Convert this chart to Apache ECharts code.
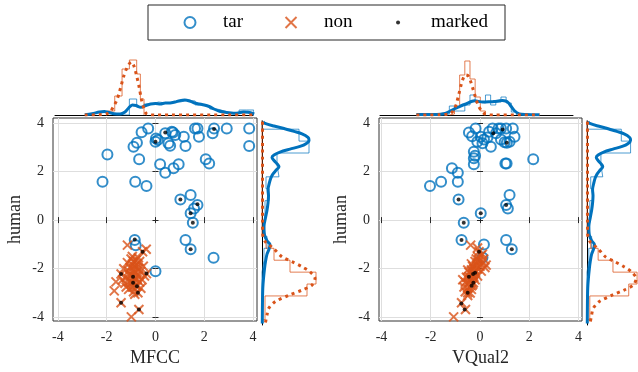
<!DOCTYPE html>
<html>
<head>
<meta charset="utf-8">
<script src="https://cdn.jsdelivr.net/npm/echarts@6/dist/echarts.min.js"></script>
<style>
  html, body { margin: 0; padding: 0; background: #fff; }
  #main { width: 638px; height: 372px; }
</style>
</head>
<body>
<div id="main"></div>
<script>
var blue = '#0072BD', orange = '#D95319';
var serif = "'Liberation Serif', 'Times New Roman', serif";
var tickVals = [-4, -2, 0, 2, 4];

// scatter points, [score, human]
var tarMFCC = [
  [-2.17,1.58],[-1.97,2.7],[-0.83,1.58],[-0.37,1.4],[-0.67,2.5],[-0.9,3.02],[-0.76,3.18],[-0.57,3.61],[-0.3,3.77],
  [0.02,3.36],[0,3.22],[0.1,3.3],[0.4,3.57],[0.53,3.16],[0.67,3.63],[0.81,3.5],[0.6,3.06],[0.72,3.6],
  [1.16,3.43],[1.23,3.05],[1.72,3.77],[1.62,3.77],[1.78,3.43],[2.4,3.77],[2.34,3.57],[2.92,3.77],[3.84,3.77],[3.84,3.05],
  [0.19,2.3],[0.4,1.95],[0.74,2.13],[0.95,2.3],[2.06,2.5],[2.2,2.33],
  [1.02,0.85],[1.44,1.03],[1.72,0.62],[1.58,0.48],[1.44,0.28],[1.53,-0.11],[1.23,-0.82],[1.44,-1.2],[2.38,-1.55],
  [-0.85,-0.82],[-0.81,-1.03],[0,-2.1]
];
var nonMFCC = [
  [-1.15,-1.03],[-0.38,-1.2],[-0.53,-1.3],[-1.41,-2.22],[-0.37,-2.2],[-1.62,-2.54],[-1.69,-2.91],[-1.41,-3.4],
  [-0.68,-3.68],[-0.99,-3.98],[-0.92,-2.33],[-0.92,-2.58],[-0.76,-2.72],[-0.72,-2.99],
  [-1.0,-1.6],[-0.9,-1.7],[-0.8,-1.65],[-0.95,-1.85],[-0.85,-1.9],[-0.75,-1.8],[-1.05,-1.95],[-0.7,-2.0],
  [-0.9,-2.05],[-1.1,-2.1],[-0.8,-2.15],[-0.6,-2.1],[-1.0,-2.25],[-0.7,-2.3],[-1.2,-2.35],[-0.85,-2.4],
  [-0.55,-2.45],[-1.05,-2.5],[-1.25,-2.6],[-0.8,-2.65],[-0.95,-2.75],[-1.1,-2.85],[-0.65,-2.55],[-0.9,-2.95],
  [-1.3,-2.0],[-0.5,-1.9],[-0.45,-2.3],[-1.15,-1.75],[-0.65,-1.7],[-0.95,-1.5],[-0.75,-2.45],[-1.0,-2.6],
  [-1.2,-2.75],[-0.6,-2.8],[-0.85,-3.05],[-1.35,-2.45],[-0.7,-1.55],[-1.05,-2.3],[-0.9,-2.2],[-0.8,-2.0]
];
var markedMFCC = [
  [0,3.22],[0.4,3.6],[2.4,3.75],[1.02,0.85],[1.72,0.65],[1.44,0.28],[1.53,-0.11],[1.44,-1.2],[-0.85,-0.8],
  [-0.53,-1.3],[-1.41,-2.22],[-0.37,-2.2],[-0.92,-2.33],[-0.92,-2.58],[-0.76,-2.72],[-0.72,-2.99],[-1.41,-3.4],[-0.68,-3.68]
];
var tarVQ2 = [
  [-0.45,3.6],[-0.18,3.77],[0.03,3.43],[-0.11,3.22],[0.1,3.16],[0.16,3.32],[0.37,3.63],[0.51,3.77],[0.65,3.57],
  [0.75,3.77],[0.85,3.77],[1.06,3.77],[0.44,3.02],[0.85,3.32],[1.0,3.2],[1.09,3.18],[1.33,3.77],[1.4,3.43],
  [1.2,3.22],[-0.32,3.45],[0.3,3.4],
  [-0.25,2.81],[-0.25,2.54],[-0.25,2.3],[-0.2,2.65],[1.03,2.33],[1.08,2.33],[2.16,2.5],
  [-1.14,2.13],[-0.9,1.95],[-1.58,1.58],[-2.03,1.4],[-0.9,1.58],
  [-0.87,0.85],[1.2,1.03],[1.06,0.62],[1.13,0.48],[0.03,0.28],
  [-0.66,-0.11],[-0.75,-0.82],[0.16,-1.0],[1.06,-0.82],[1.29,-1.2],[0.1,-1.54]
];
var nonVQ2 = [
  [-1.07,-3.98],[-0.59,-3.68],[-0.75,-3.4],[-0.38,-1.03],[-0.1,-1.15],[-0.04,-1.3],
  [0.05,-1.45],[-0.1,-1.5],[0.15,-1.6],[-0.05,-1.65],[-0.2,-1.7],[0.1,-1.75],[-0.15,-1.85],[0.0,-1.9],
  [-0.3,-1.9],[0.2,-1.95],[-0.1,-2.0],[-0.35,-2.05],[-0.2,-2.1],[0.05,-2.1],[-0.45,-2.15],[-0.3,-2.25],
  [-0.1,-2.3],[-0.55,-2.35],[-0.4,-2.45],[-0.2,-2.45],[-0.6,-2.55],[-0.45,-2.6],[-0.3,-2.65],[-0.65,-2.75],
  [-0.5,-2.8],[-0.35,-2.85],[-0.6,-2.95],[-0.4,-3.0],[-0.5,-3.1],[-0.25,-2.0],[-0.15,-1.6],[0.1,-1.4],
  [-0.35,-1.8],[-0.5,-2.05],[0.25,-1.85],[-0.7,-2.45],[-0.25,-2.35],[-0.08,-1.75],
  [-0.45,-2.33],[-0.28,-2.22],[-0.2,-2.17],[-0.34,-2.7],[-0.27,-2.58],[-0.5,-2.99]
];
var markedVQ2 = [
  [0.54,3.57],[0.92,3.73],[1.09,3.18],[-0.87,0.85],[1.06,0.62],[0.03,0.28],[-0.66,-0.11],[-0.75,-0.82],[1.29,-1.2],
  [-0.04,-1.3],[-0.45,-2.33],[-0.28,-2.22],[-0.2,-2.17],[-0.34,-2.7],[-0.27,-2.58],[-0.5,-2.99],[-0.76,-3.43],[-0.62,-3.68]
];

// top marginals: histogram edges / heights and density curves [score, density]
var mfccTarEdges = [-2.27,-1.97,-1.67,-1.37,-1.07,-0.77,-0.47,-0.17,0.13,0.43,0.73,1.03,1.33,1.63,1.93,2.23,2.53,2.83,3.13,3.43,3.73,4.03];
var mfccTarCounts = [3,1,0,0,16,8,11,13,12,13,13,15,14,10,9,6,4,2,2,5,5];
var mfccNonEdges = [-1.97,-1.67,-1.37,-1.07,-0.77,-0.62,-0.47];
var mfccNonCounts = [4,19,46,55,41,16];
var mfccTarKde = [[-2.9,0.3],[-2.6,1.2],[-2.3,3],[-2.1,3.4],[-1.9,2.5],[-1.7,1.3],[-1.45,1],[-1.25,3],[-1.1,7],[-0.95,10],
  [-0.8,9.5],[-0.6,7.7],[-0.4,9.5],[-0.2,11],[0.0,11.5],[0.2,11],[0.4,12],[0.6,12],[0.8,13],[1.0,14.4],[1.2,15],[1.4,14],
  [1.6,12],[1.8,11],[2.0,10],[2.2,8.5],[2.4,6],[2.6,4],[2.8,3],[3.0,2.2],[3.2,1.8],[3.4,2],[3.6,3],[3.8,2.8],[4.05,1]];
var mfccNonKde = [[-2.9,0],[-2.3,0.3],[-2.0,1.2],[-1.85,3.5],[-1.74,7.7],[-1.6,14],[-1.5,21],[-1.4,30],[-1.3,39],[-1.2,45.5],
  [-1.08,51],[-0.98,53],[-0.89,49.5],[-0.78,40],[-0.67,28],[-0.57,15],[-0.47,6],[-0.38,1.5],[-0.25,0.2],[0,0],[4.05,0]];

var vq2TarEdges = [-1.45,-1.24,-1.03,-0.82,-0.61,-0.40,-0.19,0.02,0.23,0.44,0.65,0.86,1.07,1.28,1.49];
var vq2TarCounts = [1,9,4,4,10,20,13,12,20,10,13,18,12,3];
var vq2NonEdges = [-1.24,-1.03,-0.82,-0.61,-0.40,-0.19,0.02,0.23];
var vq2NonCounts = [1,9,40,54,36,18,4];
var vq2TarKde = [[-2.58,0.4],[-2.0,0.5],[-1.6,0.8],[-1.41,1.5],[-1.2,4],[-1.0,6.5],[-0.85,8],[-0.73,9.5],[-0.52,11.5],
  [-0.35,13.5],[-0.2,14.3],[-0.04,13.5],[0.1,13],[0.23,13],[0.4,13.2],[0.58,13.5],[0.75,14],[0.92,14.5],[1.05,14],
  [1.15,12.5],[1.26,9],[1.4,4.5],[1.6,1.2],[1.88,0.5],[2.43,0.3]];
var vq2NonKde = [[-2.58,0],[-1.6,0.2],[-1.3,0.8],[-1.2,1.5],[-1.07,4.5],[-0.97,10],[-0.86,20],[-0.75,31],[-0.65,38],
  [-0.56,40],[-0.47,39],[-0.38,34],[-0.29,27],[-0.18,18],[-0.07,10],[0.07,4],[0.2,1.2],[0.37,0.2],[0.6,0],[2.43,0]];

// right marginals (human score), [density, human]
var humanEdges = [4.23,3.74,3.25,2.76,2.27,1.78,1.29,0.80,0.31,-0.18,-0.67,-1.16,-1.65,-2.14,-2.63,-3.12,-3.61,-4.10];
var humanTarCounts = [0,37,47,15,17,4,7,3,2,1,5,2,0,0,0,0,0];
var humanNonCounts = [0,0,0,0,0,0,0,0,0,0,4,12,28,54,45,3,3];
var humanTarKde = [[1,4.05],[3,3.98],[12,3.87],[22,3.77],[32,3.65],[40,3.55],[46,3.4],[47,3.29],[44,3.14],[38,3.03],
  [28,2.92],[18,2.8],[12,2.68],[10,2.58],[12,2.45],[15,2.32],[17,2.2],[14,2.05],[11,1.9],[9,1.75],[7.5,1.55],[6,1.25],
  [6.5,1.0],[6,0.7],[5,0.41],[3.5,0.1],[2,-0.25],[2.5,-0.6],[5,-0.85],[8,-1.0],[7,-1.2],[5,-1.4],[3.5,-1.7],[2.5,-2.0],
  [1.5,-2.4],[0.8,-2.8],[0.5,-3.3],[0.3,-4.25]];
var humanNonKde = [[0.5,4.05],[0.5,3.0],[0.5,1.5],[0.5,0],[0.8,-0.6],[3.3,-0.89],[8,-1.05],[11.7,-1.17],[20,-1.51],
  [30,-1.71],[40,-1.92],[48,-2.13],[53,-2.4],[50,-2.67],[40,-2.88],[27,-3.09],[13,-3.36],[6.7,-3.63],[5,-3.9],[3.3,-4.25]];

// stairs outline of a histogram, bars standing on the x axis
function stairsX(edges, counts) {
  var pts = [[edges[0], 0]];
  for (var i = 0; i < counts.length; i++) {
    pts.push([edges[i], counts[i]]);
    pts.push([edges[i + 1], counts[i]]);
  }
  pts.push([edges[edges.length - 1], 0]);
  return pts;
}
// same, bars lying on the y axis
function stairsY(edges, counts) {
  return stairsX(edges, counts).map(function (p) { return [p[1], p[0]]; });
}

var tickStyle = { inside: true, length: 3, customValues: tickVals, lineStyle: { color: '#262626' } };
var labelStyle = { customValues: tickVals, fontFamily: serif, fontSize: 14, color: '#262626' };

function mainX(grid, min, max, name) {
  return [{
    gridIndex: grid, type: 'value', min: min, max: max, position: 'bottom',
    name: name, nameLocation: 'middle', nameGap: 28,
    nameTextStyle: { fontFamily: serif, fontSize: 18, color: '#262626' },
    axisLine: { show: false }, axisTick: tickStyle,
    axisLabel: Object.assign({ margin: 9 }, labelStyle),
    splitLine: { show: true, lineStyle: { color: '#dedede' } }
  }, {
    gridIndex: grid, type: 'value', min: min, max: max, position: 'top',
    axisLine: { show: false }, axisTick: tickStyle,
    axisLabel: { show: false }, splitLine: { show: false }
  }];
}
function mainY(grid) {
  return [{
    gridIndex: grid, type: 'value', min: -4.15, max: 4.2, position: 'left',
    name: 'human', nameLocation: 'middle', nameGap: 29, nameRotate: 90,
    nameTextStyle: { fontFamily: serif, fontSize: 18, color: '#262626' },
    axisLine: { show: false }, axisTick: tickStyle,
    axisLabel: Object.assign({ margin: 9 }, labelStyle),
    splitLine: { show: true, lineStyle: { color: '#dedede' } }
  }, {
    gridIndex: grid, type: 'value', min: -4.15, max: 4.2, position: 'right',
    axisLine: { show: false }, axisTick: tickStyle,
    axisLabel: { show: false }, splitLine: { show: false }
  }];
}
function margTopX(grid, min, max) {
  return { gridIndex: grid, type: 'value', min: min, max: max, position: 'bottom',
    axisLine: { show: true, onZero: false, lineStyle: { color: '#000', width: 1 } },
    axisTick: { show: false }, axisLabel: { show: false }, splitLine: { show: false } };
}
function margRightY(grid) {
  return { gridIndex: grid, type: 'value', min: -4.315, max: 4.077, position: 'left',
    axisLine: { show: true, onZero: false, lineStyle: { color: '#000', width: 1 } },
    axisTick: { show: false }, axisLabel: { show: false }, splitLine: { show: false } };
}
function hidden(grid, min, max) {
  return { gridIndex: grid, type: 'value', min: min, max: max, show: false };
}

var xCircle = 'path://M0,0L10,10M10,0L0,10';
var dotIcon = 'path://M0,0M11,11M3.5,5.5a2,2 0 1,0 4,0a2,2 0 1,0 -4,0z';

function scatterSet(xi, tar, non, marked) {
  return [{
    name: 'tar', type: 'scatter', xAxisIndex: xi, yAxisIndex: xi, data: tar,
    symbol: 'circle', symbolSize: 10,
    itemStyle: { color: 'none', borderColor: blue, borderWidth: 2 }, z: 3
  }, {
    name: 'non', type: 'scatter', xAxisIndex: xi, yAxisIndex: xi, data: non,
    symbol: xCircle, symbolSize: 9,
    itemStyle: { color: 'none', borderColor: orange, borderWidth: 2 }, z: 4
  }, {
    name: 'marked', type: 'scatter', xAxisIndex: xi, yAxisIndex: xi, data: marked,
    symbol: 'circle', symbolSize: 4, itemStyle: { color: '#000' }, z: 5
  }];
}
function lineSet(ai, histTar, histNon, kdeTar, kdeNon) {
  var base = { type: 'line', xAxisIndex: ai, yAxisIndex: ai, symbol: 'none', silent: true };
  return [
    Object.assign({ name: 'h1', data: histTar, lineStyle: { color: blue, width: 1, opacity: 0.7 }, z: 2 }, base),
    Object.assign({ name: 'h2', data: histNon, lineStyle: { color: orange, width: 1, opacity: 0.75 }, z: 2 }, base),
    Object.assign({ name: 'k1', data: kdeTar, smooth: 0.3, lineStyle: { color: blue, width: 3 }, z: 3 }, base),
    Object.assign({ name: 'k2', data: kdeNon, smooth: 0.3, lineStyle: { color: orange, width: 3, type: [3, 4], cap: 'butt' }, z: 4 }, base)
  ];
}

var chart = echarts.init(document.getElementById('main'));
var option = {
  animation: false,
  backgroundColor: '#fff',
  legend: {
    left: 148, top: 5, padding: [8, 17, 8, 34],
    itemWidth: 56, itemHeight: 11, itemGap: 40,
    borderColor: '#262626', borderWidth: 1, backgroundColor: '#fff',
    textStyle: { fontFamily: serif, fontSize: 19, color: '#000' },
    data: [
      { name: 'tar', icon: 'circle', itemStyle: { color: 'none', borderColor: blue, borderWidth: 2 } },
      { name: 'non', icon: xCircle, itemStyle: { color: 'none', borderColor: orange, borderWidth: 2 } },
      { name: 'marked', icon: dotIcon, itemStyle: { color: '#000', borderWidth: 0 } }
    ]
  },
  grid: [
    { left: 53, top: 118, width: 204, height: 203, show: true, borderColor: '#333', borderWidth: 1 },
    { left: 379, top: 118, width: 203, height: 203, show: true, borderColor: '#333', borderWidth: 1 },
    { left: 55, top: 55, width: 198, height: 60 },
    { left: 380, top: 55, width: 193, height: 60 },
    { left: 262, top: 121, width: 55, height: 204 },
    { left: 587, top: 121, width: 55, height: 204 }
  ],
  xAxis: [].concat(
    mainX(0, -4.2, 4.16, 'MFCC'),
    mainX(1, -4.1, 4.14, 'VQual2'),
    [margTopX(2, -4.12, 4.0), margTopX(3, -4.06, 3.79), hidden(4, 0, 55), hidden(5, 0, 55)]
  ),
  yAxis: [].concat(
    mainY(0), mainY(1),
    [hidden(2, 0, 60), hidden(3, 0, 60), margRightY(4), margRightY(5)]
  ),
  series: []
};
// axis index layout: 0,1 left box; 2,3 right box; 4,5 top marginals; 6,7 right marginals
var s = [];
s = s.concat(scatterSet(0, tarMFCC, nonMFCC, markedMFCC));
s = s.concat(scatterSet(2, tarVQ2, nonVQ2, markedVQ2));
s = s.concat(lineSet(4, stairsX(mfccTarEdges, mfccTarCounts), stairsX(mfccNonEdges, mfccNonCounts), mfccTarKde, mfccNonKde));
s = s.concat(lineSet(5, stairsX(vq2TarEdges, vq2TarCounts), stairsX(vq2NonEdges, vq2NonCounts), vq2TarKde, vq2NonKde));
s = s.concat(lineSet(6, stairsY(humanEdges, humanTarCounts), stairsY(humanEdges, humanNonCounts), humanTarKde, humanNonKde));
s = s.concat(lineSet(7, stairsY(humanEdges, humanTarCounts), stairsY(humanEdges, humanNonCounts), humanTarKde, humanNonKde));
option.series = s;
chart.setOption(option);
</script>
</body>
</html>
